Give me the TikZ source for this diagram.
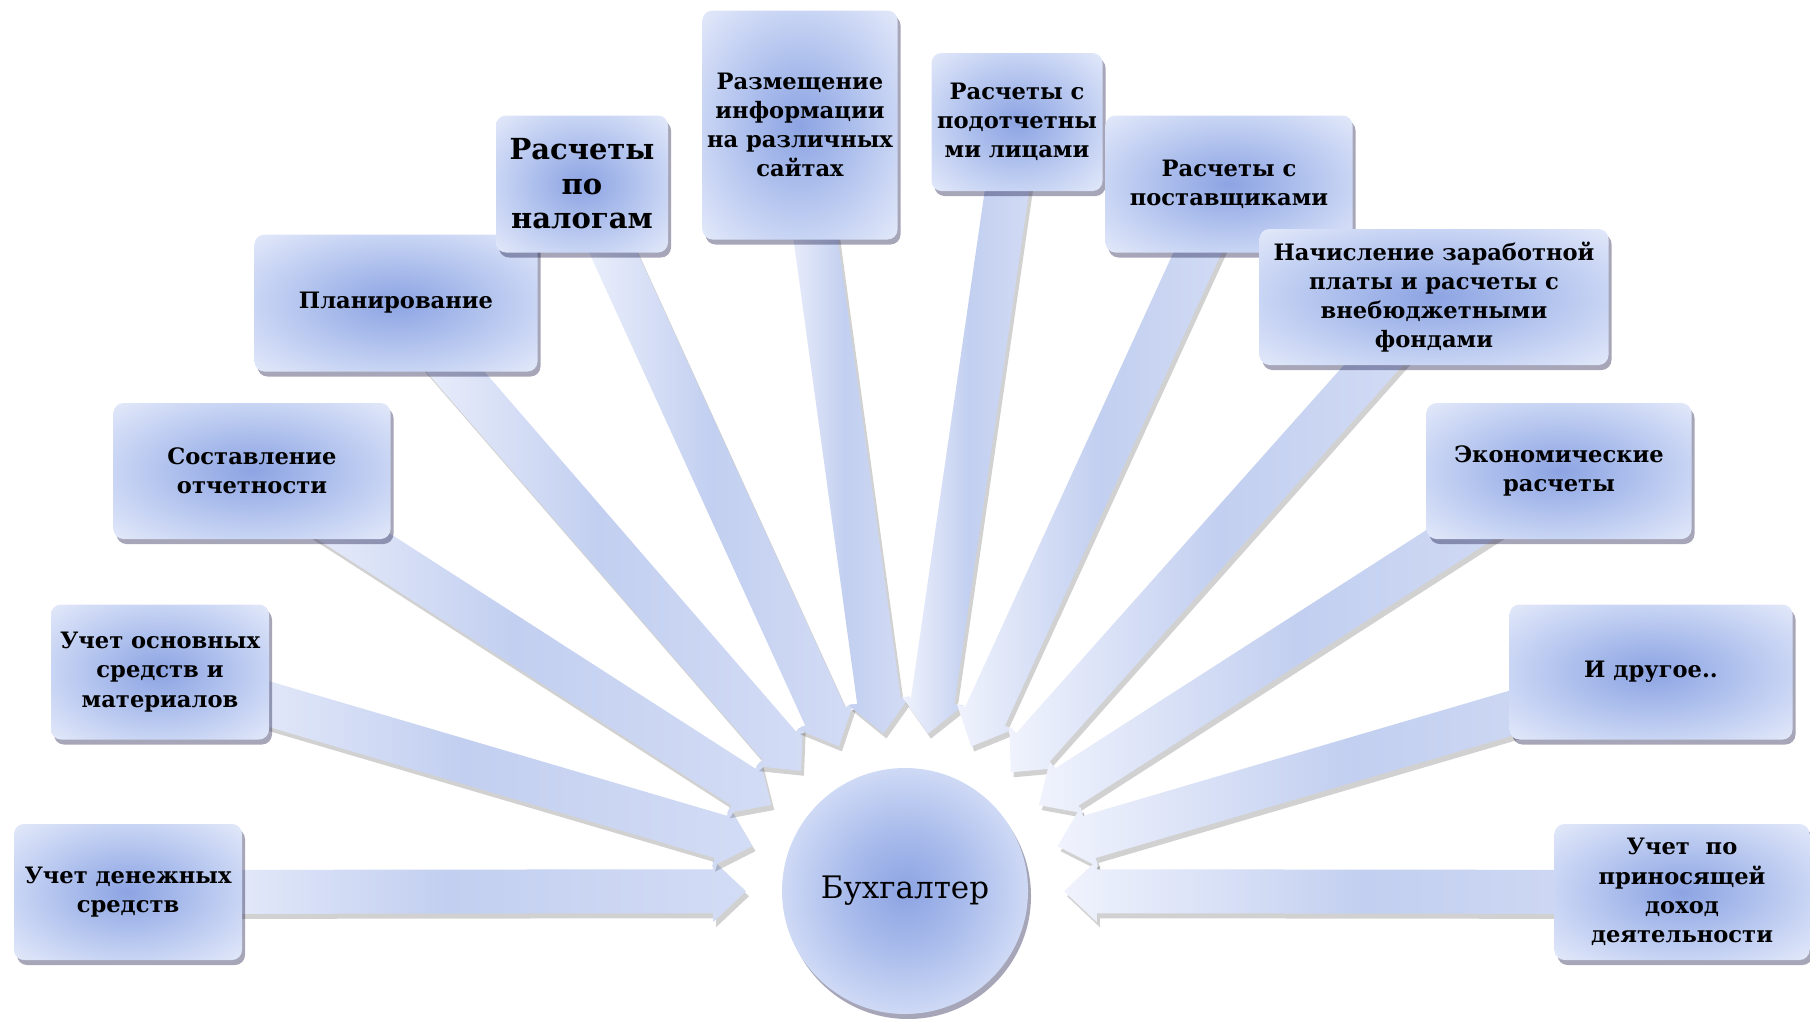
\documentclass[tikz,border=0pt]{standalone}
\usepackage{fontspec}
\setmainfont{DejaVu Serif}
\usetikzlibrary{calc,shadows,backgrounds}
\definecolor{core}{HTML}{8DA4E3}
\definecolor{inner}{HTML}{A8BBEB}
\definecolor{outer}{HTML}{C9D5F4}
\definecolor{rim}{HTML}{E4EAFA}
\definecolor{shaftfar}{HTML}{D3DCF5}
\definecolor{shaftmid}{HTML}{C2CFF0}
\definecolor{shafttip}{HTML}{F0F3FD}
\pgfdeclareradialshading{boxglow}{\pgfpoint{0bp}{0bp}}{color(0bp)=(core); color(12bp)=(inner);
  color(25bp)=(outer); color(36bp)=(rim); color(50bp)=(rim)}
\pgfdeclareradialshading{ballglow}{\pgfpoint{0bp}{0bp}}{color(0bp)=(core); color(12bp)=(inner);
  color(25bp)=(outer!80!rim); color(50bp)=(outer!80!rim)}
\tikzset{
  duty/.style={rounded corners=5pt, shading=boxglow, align=center,
    inner sep=0pt, font=\bfseries\fontsize{11.3}{14.6}\selectfont,
    drop shadow={shadow xshift=1.5pt, shadow yshift=-2.5pt, fill=black!80!blue, opacity=.35}},
  big/.style={font=\bfseries\fontsize{14.5}{17.3}\selectfont},
  accountant/.style={circle, shading=ballglow, minimum size=123pt,
    inner sep=0pt, font=\fontsize{15.5}{18}\selectfont,
    drop shadow={shadow xshift=1.5pt, shadow yshift=-2.5pt, fill=black!80!blue, opacity=.35}},
  feed/.style={left color=shafttip, right color=shaftfar, middle color=shaftmid},
  feedshadow/.style={fill=black, opacity=.18},
}
\newcommand{\feed}[1]{%
  \coordinate (tip) at ($(acc)!79.5pt!(#1)$);
  \pgfmathanglebetweenpoints{\pgfpointanchor{tip}{center}}{\pgfpointanchor{#1}{center}}%
  \let\feedangle\pgfmathresult
  \fill[feedshadow, shift={(tip)}, shift={(1.5pt,-2.5pt)}, rotate=\feedangle]
    (0pt,0pt) -- (16.5pt,15.5pt) -- (16.5pt,11pt) -- (300pt,11pt)
    -- (300pt,-11pt) -- (16.5pt,-11pt) -- (16.5pt,-15.5pt) -- cycle;
  \shade[feed, shift={(tip)}, rotate=\feedangle]
    (0pt,0pt) -- (16.5pt,15.5pt) -- (16.5pt,11pt) -- (300pt,11pt)
    -- (300pt,-11pt) -- (16.5pt,-11pt) -- (16.5pt,-15.5pt) -- cycle;
}

\begin{document}
\begin{tikzpicture}[x=0.5pt, y=-0.5pt]
  \useasboundingbox (0,0) rectangle (1810,1018);
  % boxes round the accountant
  \node[duty, minimum width=114pt, minimum height=68pt] (cash) at (128,892) {Учет денежных\\средств};
  \node[duty, minimum width=109pt, minimum height=67.5pt] (assets) at (160,672) {Учет основных\\средств и\\материалов};
  \node[duty, minimum width=138.5pt, minimum height=68pt] (report) at (252,471) {Составление\\отчетности};
  \node[duty, minimum width=141.5pt, minimum height=68.5pt] (plan) at (396,303) {Планирование};
  \node[duty, big, minimum width=86pt, minimum height=68.5pt] (taxes) at (582,184) {Расчеты\\по\\налогам};
  \node[duty, minimum width=97.5pt, minimum height=114.5pt] (sites) at (800,125) {Размещение\\информации\\на различных\\сайтах};
  \node[duty, minimum width=85.5pt, minimum height=69pt] (imprest) at (1017,122) {Расчеты с\\подотчетны\\ми лицами};
  \node[duty, minimum width=123.5pt, minimum height=68.5pt] (vendors) at (1229,184) {Расчеты с\\поставщиками};
  \node[duty, minimum width=174.5pt, minimum height=68pt] (payroll) at (1434,297) {Начисление заработной\\платы и расчеты с\\внебюджетными\\фондами};
  \node[duty, minimum width=132.5pt, minimum height=68pt] (econ) at (1559,471) {Экономические\\расчеты};
  \node[duty, minimum width=141.5pt, minimum height=67.5pt] (other) at (1651,672) {И другое..};
  \node[duty, minimum width=127.5pt, minimum height=68pt] (income) at (1682,892) {Учет\ \ по\\приносящей\\доход\\деятельности};
  \node[accountant] (acc) at (905,891) {Бухгалтер};
  % block arrows under the boxes
  \begin{scope}[on background layer]
    \foreach \b in {cash,assets,report,plan,taxes,sites,imprest,vendors,payroll,econ,other,income}
      {\feed{\b}}
  \end{scope}
\end{tikzpicture}
\end{document}
